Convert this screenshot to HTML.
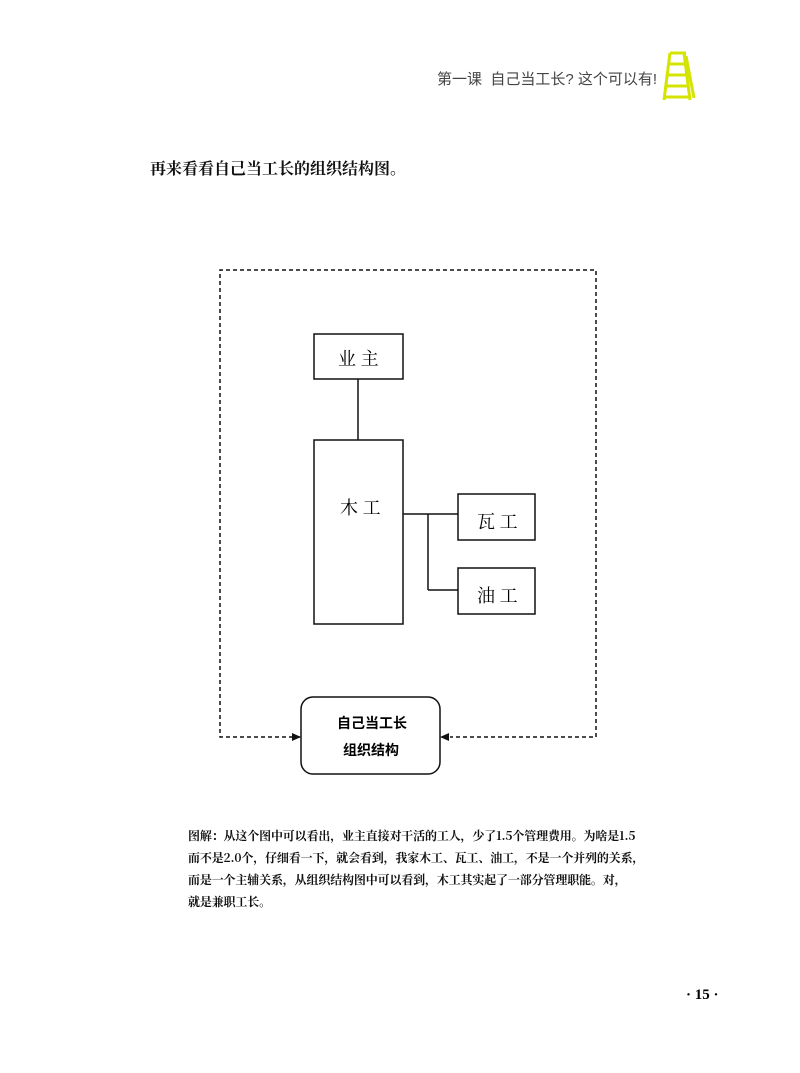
<!DOCTYPE html>
<html><head><meta charset="utf-8"><style>
body{margin:0;width:800px;height:1073px;background:#fff;position:relative;overflow:hidden;font-family:"Liberation Sans","Noto Sans CJK SC",sans-serif}
.t{position:absolute;white-space:nowrap}
</style></head><body>
<div class="t" style="left:437px;top:68px;font-size:15px;color:#444">第一课&nbsp; 自己当工长? 这个可以有!</div>
<svg style="position:absolute;left:660px;top:50px" width="36" height="52">
<g stroke="#d4e400" stroke-width="3" fill="none">
<line x1="10" y1="3" x2="4" y2="50"/><line x1="24" y1="3" x2="30" y2="50"/>
<line x1="10" y1="3" x2="26" y2="3"/><line x1="26" y1="6" x2="34" y2="48"/>
<line x1="9" y1="14" x2="25" y2="14"/><line x1="8" y1="25" x2="27" y2="25"/>
<line x1="6" y1="36" x2="28" y2="36"/><line x1="5" y1="47" x2="30" y2="47"/>
</g></svg>
<div class="t" style="left:150px;top:156px;font-size:16px;font-weight:bold;color:#111;font-family:'Noto Serif CJK SC',serif">再来看看自己当工长的组织结构图。</div>
<svg style="position:absolute;left:0;top:0" width="800" height="1073">
<g fill="none" stroke="#111" stroke-width="1.5">
<path d="M300 737 H220 V270 H596 V737 H450" stroke-dasharray="4,3"/>
<rect x="314" y="334" width="89" height="45"/>
<line x1="358" y1="379" x2="358" y2="440"/>
<rect x="314" y="440" width="89" height="184"/>
<line x1="403" y1="514" x2="458" y2="514"/>
<line x1="428" y1="514" x2="428" y2="590"/><line x1="428" y1="590" x2="458" y2="590"/>
<rect x="458" y="494" width="77" height="46"/>
<rect x="458" y="568" width="77" height="46"/>
<rect x="301" y="697" width="139" height="77" rx="12"/>
</g>
<polygon points="301,737 292,733 292,741" fill="#111"/>
<polygon points="440,737 449,733 449,741" fill="#111"/>
</svg>
<div class="t" style="left:338px;top:345px;font-size:18px;font-family:'Noto Serif CJK SC',serif">业 主</div>
<div class="t" style="left:340px;top:494px;font-size:18px;font-family:'Noto Serif CJK SC',serif">木 工</div>
<div class="t" style="left:477px;top:508px;font-size:18px;font-family:'Noto Serif CJK SC',serif">瓦 工</div>
<div class="t" style="left:477px;top:582px;font-size:18px;font-family:'Noto Serif CJK SC',serif">油 工</div>
<div class="t" style="left:337px;top:713px;font-size:14px;font-weight:bold">自己当工长</div>
<div class="t" style="left:343px;top:740px;font-size:14px;font-weight:bold">组织结构</div>
<div class="t" style="left:188px;top:825px;font-size:12px;letter-spacing:-0.15px;line-height:22px;font-weight:bold;font-family:'Noto Serif CJK SC',serif;color:#111">图解：从这个图中可以看出，业主直接对干活的工人，少了1.5个管理费用。为啥是1.5<br>而不是2.0个，仔细看一下，就会看到，我家木工、瓦工、油工，不是一个并列的关系，<br>而是一个主辅关系，从组织结构图中可以看到，木工其实起了一部分管理职能。对，<br>就是兼职工长。</div>
<div class="t" style="left:686px;top:987px;font-size:15px;font-weight:bold;font-family:'Liberation Serif',serif">· 15 ·</div>
</body></html>
